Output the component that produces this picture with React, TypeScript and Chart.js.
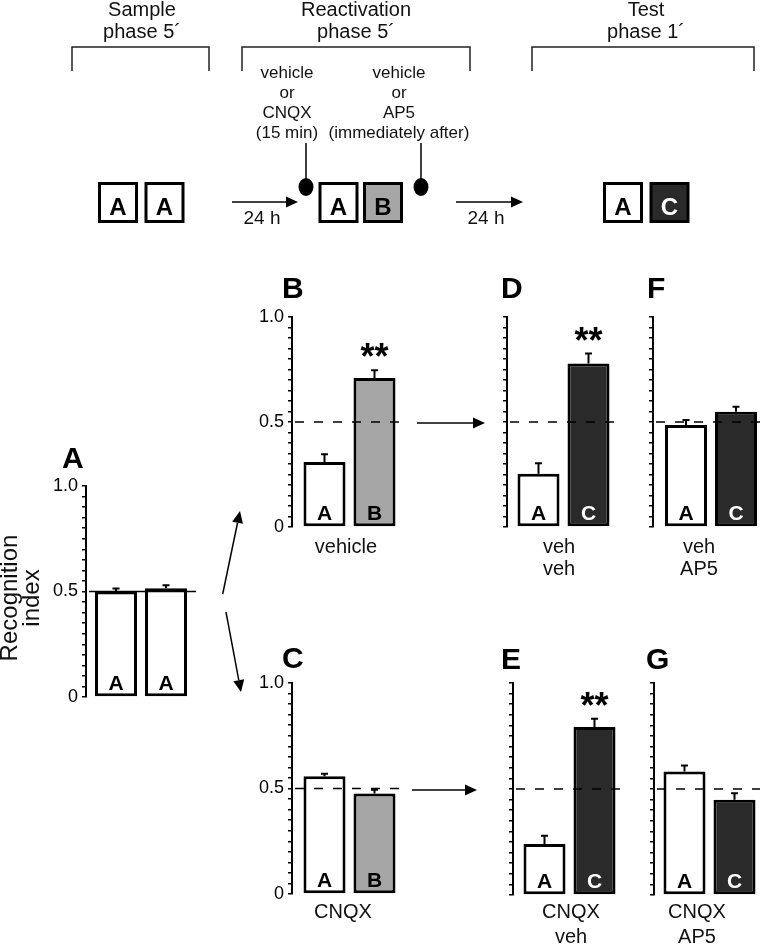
import React, { useEffect, useRef } from 'react';
import { Chart, registerables } from 'chart.js';

Chart.register(...registerables);

const FONT = '"Liberation Sans", Arial, Helvetica, sans-serif';

// ---------------- data ----------------
const yTickValues = [0, 0.5, 1];
const yTickLabels = ['0', '0.5', '1.0'];
const chanceLevel = 0.5;

const panelAObjects = ['A', 'A'];
const panelAValues = [0.5, 0.515];
const panelAErrors = [0.014, 0.015];
const panelAStars = ['', ''];

const panelBObjects = ['A', 'B'];
const panelBValues = [0.31, 0.71];
const panelBErrors = [0.036, 0.037];
const panelBStars = ['', '**'];

const panelCObjects = ['A', 'B'];
const panelCValues = [0.558, 0.476];
const panelCErrors = [0.012, 0.018];
const panelCStars = ['', ''];

const panelDObjects = ['A', 'C'];
const panelDValues = [0.253, 0.778];
const panelDErrors = [0.05, 0.048];
const panelDStars = ['', '**'];

const panelEObjects = ['A', 'C'];
const panelEValues = [0.241, 0.792];
const panelEErrors = [0.038, 0.039];
const panelEStars = ['', '**'];

const panelFObjects = ['A', 'C'];
const panelFValues = [0.486, 0.549];
const panelFErrors = [0.024, 0.024];
const panelFStars = ['', ''];

const panelGObjects = ['A', 'C'];
const panelGValues = [0.583, 0.449];
const panelGErrors = [0.028, 0.031];
const panelGStars = ['', ''];

const panelAGroup = ['', ''];
const panelBGroup = ['vehicle'];
const panelCGroup = ['CNQX'];
const panelDGroup = ['veh', 'veh'];
const panelEGroup = ['CNQX', 'veh'];
const panelFGroup = ['veh', 'AP5'];
const panelGGroup = ['CNQX', 'AP5'];

// ---------------- styles ----------------
const FILL: Record<string, string> = { A: '#ffffff', B: '#a6a6a6', C: '#2a2a2a' };
const INK: Record<string, string> = { A: '#000000', B: '#000000', C: '#ffffff' };

type Panel = {
  key: string;
  objects: string[];
  values: number[];
  errors: number[];
  stars: string[];
  group: string[];
};

const panels: Panel[] = [
  { key: 'A', objects: panelAObjects, values: panelAValues, errors: panelAErrors, stars: panelAStars, group: panelAGroup },
  { key: 'B', objects: panelBObjects, values: panelBValues, errors: panelBErrors, stars: panelBStars, group: panelBGroup },
  { key: 'C', objects: panelCObjects, values: panelCValues, errors: panelCErrors, stars: panelCStars, group: panelCGroup },
  { key: 'D', objects: panelDObjects, values: panelDValues, errors: panelDErrors, stars: panelDStars, group: panelDGroup },
  { key: 'E', objects: panelEObjects, values: panelEValues, errors: panelEErrors, stars: panelEStars, group: panelEGroup },
  { key: 'F', objects: panelFObjects, values: panelFValues, errors: panelFErrors, stars: panelFStars, group: panelFGroup },
  { key: 'G', objects: panelGObjects, values: panelGValues, errors: panelGErrors, stars: panelGStars, group: panelGGroup },
];

type Box = {
  axisX: number; right: number; top: number; bottom: number; yAxisW: number;
  labels: boolean; solid?: boolean;
  letterX: number; letterY: number; groupX: number; groupY: number; groupGap: number;
};

const LAYOUT: Record<string, Box> = {
  A: { axisX: 86, right: 196, top: 486, bottom: 697, yAxisW: 44, labels: true, solid: true, letterX: 62, letterY: 468, groupX: 0, groupY: 0, groupGap: 0 },
  B: { axisX: 292, right: 407, top: 317, bottom: 527, yAxisW: 44, labels: true, letterX: 282, letterY: 298, groupX: 346, groupY: 553, groupGap: 22 },
  C: { axisX: 292, right: 407, top: 683, bottom: 894, yAxisW: 44, labels: true, letterX: 282, letterY: 668, groupX: 343, groupY: 918, groupGap: 25 },
  D: { axisX: 507, right: 620, top: 317, bottom: 527, yAxisW: 10, labels: false, letterX: 501, letterY: 298, groupX: 559, groupY: 553, groupGap: 22 },
  E: { axisX: 513, right: 626, top: 683, bottom: 895, yAxisW: 10, labels: false, letterX: 501, letterY: 669, groupX: 571, groupY: 918, groupGap: 25 },
  F: { axisX: 653, right: 769, top: 317, bottom: 527, yAxisW: 10, labels: false, letterX: 647, letterY: 298, groupX: 699, groupY: 553, groupGap: 22 },
  G: { axisX: 654, right: 765, top: 683, bottom: 895, yAxisW: 10, labels: false, letterX: 646, letterY: 669, groupX: 697, groupY: 918, groupGap: 25 },
};

const PAD = 24;
const SLOT = 50;
const BAR_W = 42;

function makeOverlay(panel: Panel, box: Box) {
  return {
    id: 'panelOverlay' + panel.key,
    afterDatasetsDraw(chart: any) {
      const { ctx, chartArea } = chart;
      const y = chart.scales.y;
      ctx.save();
      // chance line
      const yc = y.getPixelForValue(chanceLevel);
      ctx.strokeStyle = '#000';
      ctx.lineWidth = 1.5;
      ctx.setLineDash(box.solid ? [] : [9, 10]);
      ctx.beginPath();
      ctx.moveTo(chartArea.left + 3, yc);
      ctx.lineTo(chartArea.right, yc);
      ctx.stroke();
      ctx.setLineDash([]);
      panel.values.forEach((v, i) => {
        const el = chart.getDatasetMeta(i).data[0];
        if (!el) return;
        const x = el.x;
        const yTop = y.getPixelForValue(v);
        const yErr = y.getPixelForValue(v + panel.errors[i]);
        // error bar
        ctx.strokeStyle = '#000';
        ctx.lineWidth = 2;
        ctx.beginPath();
        ctx.moveTo(x, yTop);
        ctx.lineTo(x, yErr);
        ctx.moveTo(x - 3.5, yErr);
        ctx.lineTo(x + 3.5, yErr);
        ctx.stroke();
        // object letter inside the bar
        const obj = panel.objects[i];
        ctx.fillStyle = INK[obj];
        ctx.font = `bold 21px ${FONT}`;
        ctx.textAlign = 'center';
        ctx.textBaseline = 'alphabetic';
        ctx.fillText(obj, x, chartArea.bottom - 7);
        // significance
        if (panel.stars[i]) {
          ctx.fillStyle = '#000';
          ctx.font = `bold 36px ${FONT}`;
          ctx.fillText(panel.stars[i], x, yErr - 1);
        }
      });
      ctx.restore();
    },
  };
}

function PanelChart({ panel, box }: { panel: Panel; box: Box }) {
  const ref = useRef<HTMLCanvasElement>(null);
  const areaW = box.right - box.axisX;
  const width = box.yAxisW + areaW;
  const height = box.bottom - box.top + PAD * 2;
  const left = box.axisX - box.yAxisW;
  const top = box.top - PAD;

  useEffect(() => {
    const canvas = ref.current!;
    const chart = new Chart(canvas, {
      type: 'bar',
      data: {
        labels: [panel.key],
        datasets: panel.values.map((v, i) => ({
          label: panel.objects[i],
          data: [v],
          backgroundColor: FILL[panel.objects[i]],
          borderColor: '#000',
          borderWidth: 3,
          borderSkipped: false,
          categoryPercentage: (2 * SLOT) / areaW,
          barPercentage: BAR_W / SLOT,
        })),
      },
      options: {
        responsive: false,
        animation: false,
        devicePixelRatio: 1,
        layout: { padding: { top: PAD, bottom: PAD, left: 0, right: 0 } },
        plugins: {
          legend: { display: false },
          tooltip: { enabled: false },
          title: { display: false },
        },
        scales: {
          x: { display: false },
          y: {
            min: 0,
            max: 1,
            afterFit: (s: any) => {
              s.width = box.yAxisW;
            },
            ticks: {
              stepSize: 0.05,
              autoSkip: false,
              padding: 4,
              color: '#000',
              font: { family: FONT, size: 18 },
              callback: (v: any) => {
                if (!box.labels) return '';
                const idx = yTickValues.findIndex((t) => Math.abs(t - Number(v)) < 1e-6);
                return idx >= 0 ? yTickLabels[idx] : '';
              },
            },
            grid: {
              drawOnChartArea: false,
              drawTicks: true,
              tickLength: 4,
              color: '#000',
              lineWidth: 1.5,
            },
            border: { display: true, color: '#000', width: 2 },
          },
        },
      },
      plugins: [makeOverlay(panel, box)],
    } as any);
    return () => chart.destroy();
  }, []);

  return (
    <canvas
      ref={ref}
      width={width}
      height={height}
      style={{ position: 'absolute', left, top, width, height }}
    />
  );
}

function Arrow({ x1, y1, x2, y2, head = 12, half = 5.5 }: { x1: number; y1: number; x2: number; y2: number; head?: number; half?: number }) {
  const dx = x2 - x1;
  const dy = y2 - y1;
  const L = Math.hypot(dx, dy);
  const ux = dx / L;
  const uy = dy / L;
  const bx = x2 - ux * head;
  const by = y2 - uy * head;
  const px = -uy;
  const py = ux;
  return (
    <g>
      <line x1={x1} y1={y1} x2={bx} y2={by} stroke="#000" strokeWidth={1.5} />
      <polygon points={`${x2},${y2} ${bx + px * half},${by + py * half} ${bx - px * half},${by - py * half}`} fill="#000" />
    </g>
  );
}

function SchemBox({ x, letter }: { x: number; letter: string }) {
  return (
    <g>
      <rect x={x + 1.5} y={183.5} width={37} height={38} fill={FILL[letter]} stroke="#000" strokeWidth={3} />
      <text x={x + 20} y={215} textAnchor="middle" fontFamily={FONT} fontWeight="bold" fontSize={24} fill={INK[letter]}>
        {letter}
      </text>
    </g>
  );
}

const phaseHeaders = [
  { x: 142, lines: ['Sample', 'phase 5\u00b4'], from: 72, to: 209 },
  { x: 356, lines: ['Reactivation', 'phase 5\u00b4'], from: 242, to: 470 },
  { x: 646, lines: ['Test', 'phase 1\u00b4'], from: 532, to: 754 },
];
const injections = [
  { x: 287, stemX: 306, lines: ['vehicle', 'or', 'CNQX', '(15 min)'] },
  { x: 399, stemX: 421, lines: ['vehicle', 'or', 'AP5', '(immediately after)'] },
];
const schemBoxes = [
  { x: 98, letter: 'A' },
  { x: 144.5, letter: 'A' },
  { x: 318.5, letter: 'A' },
  { x: 363, letter: 'B' },
  { x: 603, letter: 'A' },
  { x: 649.5, letter: 'C' },
];
const delays = [
  { x1: 232, x2: 298, label: '24 h', lx: 262 },
  { x1: 456, x2: 523, label: '24 h', lx: 486 },
];

function Overlay() {
  return (
    <svg width={760} height={945} style={{ position: 'absolute', left: 0, top: 0, pointerEvents: 'none' }}>
      {phaseHeaders.map((h, i) => (
        <g key={'h' + i}>
          {h.lines.map((t, j) => (
            <text key={j} x={h.x} y={16 + j * 22} textAnchor="middle" fontFamily={FONT} fontSize={20} fill="#111">
              {t}
            </text>
          ))}
          <polyline points={`${h.from},71 ${h.from},47 ${h.to},47 ${h.to},71`} fill="none" stroke="#222" strokeWidth={1.5} />
        </g>
      ))}
      {injections.map((inj, i) => (
        <g key={'i' + i}>
          {inj.lines.map((t, j) => (
            <text key={j} x={inj.x} y={78 + j * 20} textAnchor="middle" fontFamily={FONT} fontSize={17} fill="#111">
              {t}
            </text>
          ))}
          <line x1={inj.stemX} y1={143} x2={inj.stemX} y2={180} stroke="#000" strokeWidth={1.5} />
          <ellipse cx={inj.stemX} cy={187} rx={7.5} ry={9} fill="#000" />
        </g>
      ))}
      {schemBoxes.map((b, i) => (
        <SchemBox key={'b' + i} x={b.x} letter={b.letter} />
      ))}
      {delays.map((d, i) => (
        <g key={'d' + i}>
          <Arrow x1={d.x1} y1={202} x2={d.x2} y2={202} />
          <text x={d.lx} y={224} textAnchor="middle" fontFamily={FONT} fontSize={19} fill="#111">
            {d.label}
          </text>
        </g>
      ))}

      {/* y axis title */}
      <g transform="translate(0,598) rotate(-90)">
        <text x={0} y={17} textAnchor="middle" fontFamily={FONT} fontSize={24} fill="#111">Recognition</text>
        <text x={0} y={39} textAnchor="middle" fontFamily={FONT} fontSize={24} fill="#111">index</text>
      </g>

      {/* panel letters and group labels */}
      {panels.map((p) => {
        const b = LAYOUT[p.key];
        return (
          <g key={'p' + p.key}>
            <text x={b.letterX} y={b.letterY} fontFamily={FONT} fontWeight="bold" fontSize={30} fill="#000">
              {p.key}
            </text>
            {p.group.filter((g) => g).map((g, j) => (
              <text key={j} x={b.groupX} y={b.groupY + j * b.groupGap} textAnchor="middle" fontFamily={FONT} fontSize={20} fill="#111">
                {g}
              </text>
            ))}
          </g>
        );
      })}

      {/* flow arrows between panels */}
      <Arrow x1={222.7} y1={594} x2={240} y2={511} />
      <Arrow x1={226} y1={612} x2={241} y2={692} />
      <Arrow x1={417} y1={423} x2={485} y2={423} />
      <Arrow x1={412} y1={790} x2={477} y2={790} />
    </svg>
  );
}

export default function App() {
  return (
    <div style={{ position: 'absolute', left: 0, top: 0, width: 760, height: 945, overflow: 'hidden', background: '#fff' }}>
      {panels.map((p) => (
        <PanelChart key={p.key} panel={p} box={LAYOUT[p.key]} />
      ))}
      <Overlay />
    </div>
  );
}
